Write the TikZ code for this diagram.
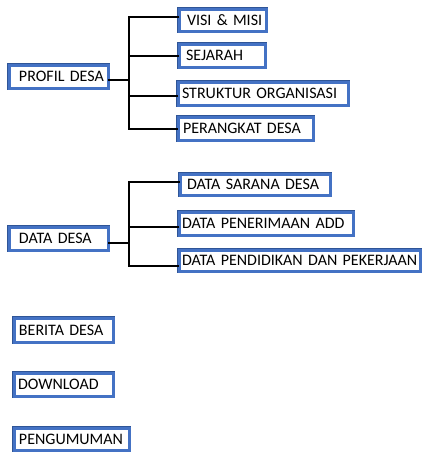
\documentclass[tikz,border=0pt]{standalone}
\usepackage{fontspec}
\setmainfont{Carlito}
\definecolor{bdark}{RGB}{47,85,151}
\definecolor{bblue}{RGB}{68,114,196}
\tikzset{
  box/.style={draw=bblue, line width=3pt, preaction={draw=bdark, line width=4.5pt},
    fill=white, rectangle, outer sep=0pt, anchor=north west, align=left,
    font=\fontsize{16}{19}\selectfont, inner ysep=0pt},
  conn/.style={draw=black, line width=2pt},
}
\newcommand{\bx}[8]{% name, x, y, w, h, xsep, text, extra
  \pgfmathsetmacro{\bxtw}{#4-2*#6}%
  \node[box, minimum width=#4pt, minimum height=#5pt, inner xsep=#6pt,
        text width=\bxtw pt, #8] (#1) at (#2,#3) {\mbox{#7}};}
\begin{document}
\begin{tikzpicture}[x=1pt, y=-1pt]
\useasboundingbox (0,0) rectangle (422,453);
% boxes
\bx{profil}{9}{65}{99}{23}{10}{PROFIL DESA}{}
\bx{visi}{179}{9}{87}{22}{8}{VISI \& MISI}{}
\bx{sejarah}{179}{44}{86}{23}{7}{SEJARAH}{}
\bx{struktur}{178}{82}{170}{23}{4}{STRUKTUR ORGANISASI}{}
\bx{perangkat}{178}{117}{135}{23}{5}{PERANGKAT DESA}{}
\bx{datadesa}{9}{227}{99}{23}{10}{DATA DESA}{}
\bx{sarana}{180}{174}{150}{21}{7}{DATA SARANA DESA}{}
\bx{penerimaan}{179}{212}{174}{23}{3}{DATA PENERIMAAN ADD}{}
\bx{pendidikan}{179}{250}{241}{21}{3}{DATA PENDIDIKAN DAN PEKERJAAN}{}
\bx{berita}{14}{318}{99}{24}{5}{BERITA DESA}{}
\bx{download}{14}{373}{99}{23}{4}{DOWNLOAD}{}
\bx{pengumuman}{14}{428}{115}{22}{5}{PENGUMUMAN}{}
% profil connectors
\draw[conn] ([yshift=3pt]visi.west) -- ++(-50,0) coordinate (ta)
  -- (ta |- perangkat.west) -- (perangkat.west);
\draw[conn] (sejarah.west) -- (sejarah.west -| ta);
\path ([yshift=-2.5pt]struktur.west) coordinate (sa);
\draw[conn] (sa) -- (sa -| ta);
\path ([yshift=-3.5pt]profil.east) coordinate (pa);
\draw[conn] (pa) -- (pa -| ta);
% data connectors
\draw[conn] ([yshift=2.5pt]sarana.west) -- ++(-51,0) coordinate (tb)
  -- ++(0,84) coordinate (tc) -- (tc -| pendidikan.west);
\path ([yshift=-3.5pt]penerimaan.west) coordinate (pb);
\draw[conn] (pb) -- (pb -| tb);
\path ([yshift=-4.5pt]datadesa.east) coordinate (db);
\draw[conn] (db) -- (db -| tb);
\end{tikzpicture}
\end{document}
